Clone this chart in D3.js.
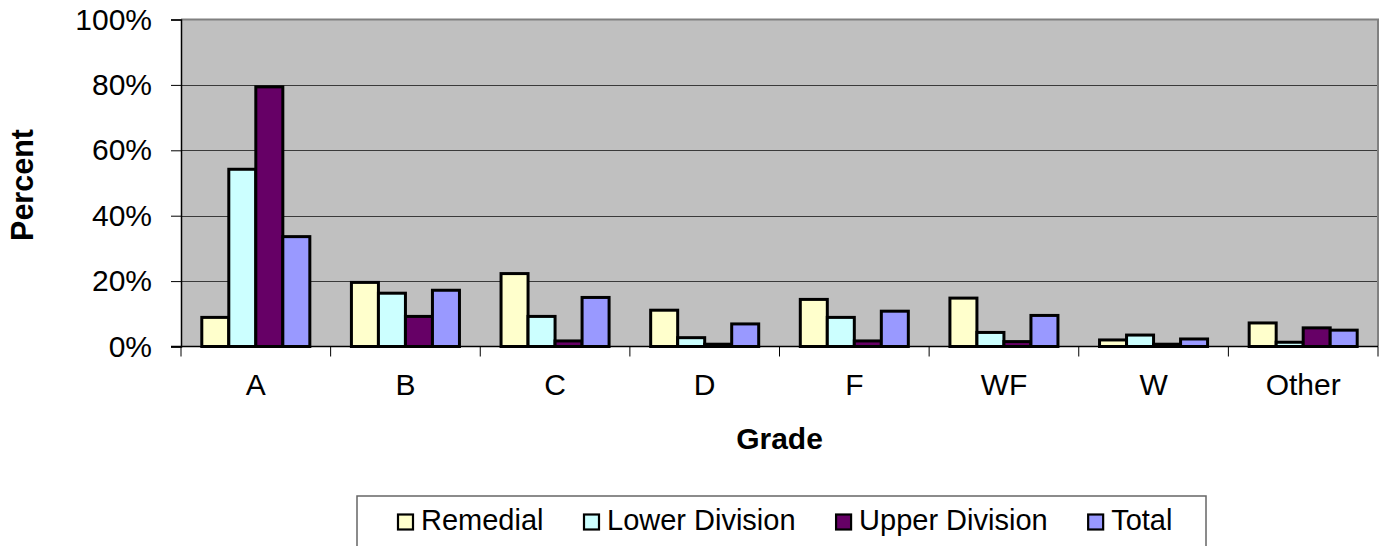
<!DOCTYPE html>
<html>
<head>
<meta charset="utf-8">
<script src="https://cdn.jsdelivr.net/npm/d3@7"></script>
<style>
  html, body { margin: 0; padding: 0; background: #fff; }
  svg { display: block; font-family: Arial, "Liberation Sans", sans-serif; }
</style>
</head>
<body>
<svg id="chart" width="1386" height="546"></svg>
<script>
const categories = ["A", "B", "C", "D", "F", "WF", "W", "Other"];
const seriesNames = ["Remedial", "Lower Division", "Upper Division", "Total"];
const remedial      = [8.9, 19.6, 22.3, 11.1, 14.4, 14.8, 2.0, 7.2];
const lowerDivision = [54.2, 16.3, 9.2, 2.7, 8.9, 4.3, 3.5, 1.3];
const upperDivision = [79.4, 9.2, 1.7, 0.7, 1.7, 1.5, 0.7, 5.7];
const total         = [33.6, 17.2, 15.0, 6.9, 10.8, 9.5, 2.3, 5.0];
const yTicks = [0, 20, 40, 60, 80, 100];
const colors = ["#FFFFCC", "#CCFFFF", "#660066", "#9999FF"];

const seriesValues = [remedial, lowerDivision, upperDivision, total];

const svg = d3.select("#chart");
const plot = { left: 181, right: 1378, top: 19.5, bottom: 346.5 };

const x0 = d3.scaleBand().domain(categories).range([plot.left, plot.right]).padding(0);
const x1 = d3.scaleBand().domain(seriesNames).range([0, x0.bandwidth()]).paddingInner(0).paddingOuter(0.77);
const y = d3.scaleLinear().domain([0, 100]).range([plot.bottom, plot.top]);

// plot background
svg.append("rect")
  .attr("x", plot.left).attr("y", plot.top)
  .attr("width", plot.right - plot.left).attr("height", plot.bottom - plot.top)
  .attr("fill", "#C0C0C0");

// gridlines
svg.append("g").selectAll("line")
  .data(yTicks.filter(t => t > 0 && t < 100))
  .join("line")
  .attr("x1", plot.left).attr("x2", plot.right)
  .attr("y1", d => Math.round(y(d)) + 0.5).attr("y2", d => Math.round(y(d)) + 0.5)
  .attr("stroke", "#3a3a3a").attr("stroke-width", 1);

// plot border (top and right)
svg.append("path")
  .attr("d", `M${plot.left},${plot.top}H${plot.right}V${plot.bottom}`)
  .attr("fill", "none").attr("stroke", "#808080").attr("stroke-width", 2);

// bars
const groups = svg.append("g").selectAll("g")
  .data(categories)
  .join("g")
  .attr("transform", d => `translate(${x0(d)},0)`);

groups.selectAll("rect")
  .data((c, i) => seriesNames.map((s, j) => ({ s, j, v: seriesValues[j][i] })))
  .join("rect")
  .attr("x", d => x1(d.s))
  .attr("width", x1.bandwidth())
  .attr("y", d => y(d.v))
  .attr("height", d => y(0) - y(d.v))
  .attr("fill", d => colors[d.j])
  .attr("stroke", "#000").attr("stroke-width", 3);

// y axis
const yAxis = d3.axisLeft(y).tickValues(yTicks).tickSize(10).tickPadding(19)
  .tickFormat(d => d + "%");
const gy = svg.append("g").attr("transform", `translate(${plot.left},0)`).call(yAxis);
gy.select(".domain").attr("stroke", "#000").attr("stroke-width", 1.5);
gy.selectAll(".tick line").attr("stroke", "#000");
gy.selectAll(".tick text").attr("font-size", 30).attr("fill", "#000")
  .attr("font-family", "Arial, 'Liberation Sans', sans-serif");

// x axis
const xAxis = d3.axisBottom(x0).tickSize(0).tickPadding(0);
const gx = svg.append("g").attr("transform", `translate(0,${plot.bottom})`).call(xAxis);
gx.select(".domain").remove();
gx.selectAll(".tick text").attr("font-size", 30).attr("fill", "#000")
  .attr("dy", null).attr("y", 48)
  .attr("font-family", "Arial, 'Liberation Sans', sans-serif");
svg.append("line")
  .attr("x1", plot.left - 10).attr("x2", plot.right)
  .attr("y1", plot.bottom).attr("y2", plot.bottom)
  .attr("stroke", "#000").attr("stroke-width", 1.5);
const boundaries = categories.map(c => x0(c)).concat([plot.right]);
svg.append("g").selectAll("line")
  .data(boundaries)
  .join("line")
  .attr("x1", d => d).attr("x2", d => d)
  .attr("y1", plot.bottom).attr("y2", plot.bottom + 10)
  .attr("stroke", "#000").attr("stroke-width", 1);

// axis titles
svg.append("text")
  .attr("x", (plot.left + plot.right) / 2).attr("y", 449)
  .attr("text-anchor", "middle").attr("font-weight", "bold").attr("font-size", 30)
  .text("Grade");
svg.append("text")
  .attr("transform", `translate(33,${(plot.top + plot.bottom) / 2 + 2}) rotate(-90)`)
  .attr("text-anchor", "middle").attr("font-weight", "bold").attr("font-size", 30.5)
  .text("Percent");

// legend
svg.append("rect")
  .attr("x", 357).attr("y", 496).attr("width", 849).attr("height", 70)
  .attr("fill", "#fff").attr("stroke", "#666").attr("stroke-width", 1.5);
let lx = 398;
seriesNames.forEach((name, i) => {
  const g = svg.append("g").attr("transform", `translate(${lx},0)`);
  g.append("rect").attr("x", 0).attr("y", 514.5).attr("width", 15).attr("height", 15)
    .attr("fill", colors[i]).attr("stroke", "#000").attr("stroke-width", 2.2);
  const t = g.append("text").attr("x", 23).attr("y", 530).attr("font-size", 29).text(name);
  lx += 23 + t.node().getComputedTextLength() + 40.5;
});
</script>
</body>
</html>
